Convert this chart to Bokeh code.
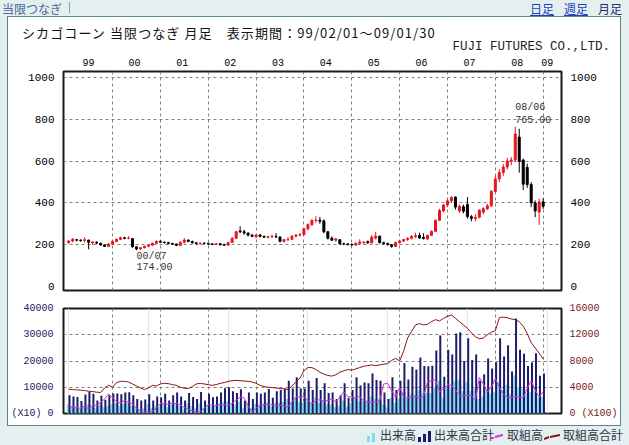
from bokeh.plotting import figure
from bokeh.models import (ColumnDataSource, Range1d, LinearAxis, FixedTicker, Label, Div,
                          Grid, CustomJSTickFormatter)
from bokeh.layouts import column
from bokeh.transform import dodge
from bokeh.embed import file_html
from bokeh.resources import INLINE

# ---------------- data (monthly, 1999/02 .. 2009/01) ----------------
first_year, first_month = 1999, 2
year_labels = ["99", "00", "01", "02", "03", "04", "05", "06", "07", "08", "09"]
title_text = "シカゴコーン 当限つなぎ 月足　表示期間：99/02/01～09/01/30"
company_text = "FUJI FUTURES CO.,LTD."

opens = [
    210, 218, 224, 222, 220, 222, 208, 212, 207, 199, 192,
    204, 216, 226, 233, 231, 229, 190, 180, 186, 193, 198, 207,
    216, 212, 210, 206, 203, 197, 212, 222, 216, 209, 206, 207,
    206, 204, 202, 205, 200, 198, 211, 231, 266, 262, 256, 246,
    238, 247, 240, 236, 239, 240, 237, 216, 224, 226, 241, 246,
    248, 276, 296, 316, 318, 314, 262, 231, 222, 224, 205, 204,
    201, 199, 206, 210, 215, 209, 232, 241, 210, 206, 200, 192,
    210, 218, 225, 231, 239, 245, 235, 228, 245, 264, 317, 362,
    390, 410, 428, 362, 382, 392, 334, 326, 332, 356, 372, 386,
    455, 515, 546, 572, 600, 606, 715, 605, 570, 488, 400, 356,
    405]
highs = [
    222, 232, 228, 226, 236, 224, 216, 216, 209, 201, 206,
    220, 229, 238, 238, 240, 231, 192, 188, 195, 201, 210, 221,
    222, 216, 214, 210, 206, 215, 232, 226, 219, 212, 211, 212,
    210, 208, 208, 207, 205, 213, 236, 266, 288, 272, 259, 252,
    250, 251, 244, 242, 248, 256, 240, 228, 236, 246, 251, 256,
    280, 302, 322, 336, 333, 322, 266, 240, 232, 226, 210, 208,
    207, 212, 226, 216, 220, 246, 262, 243, 215, 210, 202, 215,
    222, 228, 235, 246, 258, 258, 255, 248, 268, 320, 372, 395,
    420, 432, 432, 393, 392, 428, 342, 346, 370, 380, 396, 462,
    530, 562, 586, 616, 620, 765, 755, 612, 588, 500, 412, 420,
    422]
lows = [
    205, 212, 216, 214, 212, 178, 200, 203, 196, 189, 190,
    200, 212, 222, 226, 226, 186, 174, 175, 182, 188, 195, 203,
    208, 205, 201, 199, 193, 193, 206, 212, 206, 201, 200, 202,
    200, 198, 198, 196, 194, 196, 208, 228, 255, 248, 240, 236,
    232, 236, 232, 230, 232, 232, 212, 210, 218, 222, 235, 240,
    245, 270, 290, 305, 300, 255, 225, 218, 214, 200, 198, 197,
    194, 195, 200, 203, 205, 207, 225, 205, 200, 195, 186, 188,
    205, 212, 218, 225, 232, 228, 225, 222, 242, 262, 314, 355,
    380, 400, 368, 352, 350, 325, 312, 312, 326, 345, 366, 380,
    450, 500, 530, 560, 580, 596, 545, 462, 472, 380, 332, 295,
    372]
closes = [
    218, 226, 222, 220, 224, 212, 213, 208, 199, 192, 204,
    216, 226, 234, 231, 232, 190, 180, 186, 193, 198, 207, 216,
    212, 210, 206, 203, 197, 212, 222, 216, 209, 206, 207, 206,
    204, 202, 205, 200, 198, 211, 231, 262, 262, 256, 246, 240,
    247, 240, 236, 239, 241, 237, 216, 224, 226, 241, 246, 248,
    276, 296, 316, 318, 312, 262, 231, 222, 228, 205, 204, 201,
    199, 206, 213, 213, 209, 236, 241, 210, 206, 201, 192, 210,
    218, 225, 231, 239, 243, 232, 230, 245, 264, 317, 364, 390,
    410, 426, 380, 384, 360, 335, 326, 331, 365, 372, 386, 455,
    515, 546, 572, 601, 606, 730, 598, 490, 488, 400, 362, 405,
    384]

# 出来高 (x10)
volume = [
    3500, 2800, 2200, 1800, 3000, 3500, 2600, 2000, 3200, 2500, 3000,
    3500, 3800, 3000, 3600, 4000, 3000, 2200, 1500, 2000, 3500, 2200, 3000,
    2800, 3600, 2400, 3400, 3800, 2800, 1800, 3800, 2900, 2000, 3900, 2200,
    3500, 2800, 3000, 3800, 4500, 4800, 3800, 3500, 4500, 2200, 3600, 2200,
    3600, 3400, 3800, 4400, 2600, 3800, 4200, 4400, 5500, 4200, 6000, 4200,
    4200, 5500, 4000, 6000, 4000, 5000, 3400, 3400, 2400, 3000, 5000, 2600,
    4000, 6000, 4600, 5000, 5000, 6500, 5500, 5400, 3400, 2400, 6000, 4000,
    5500, 8000, 5600, 7500, 7000, 9000, 7600, 7800, 7800, 10000, 12500, 6000,
    10500, 9500, 12500, 13000, 8500, 12000, 8600, 9500, 5500, 6500, 9000, 7600,
    8200, 12000, 9000, 11000, 7600, 14500, 10000, 9500, 7600, 8200, 9600, 6000,
    6400]
# 出来高合計 (x10)
volume_total = [
    7000, 6500, 6300, 4800, 7200, 8300, 7500, 5000, 6800, 5200, 7000,
    7600, 7600, 7300, 8000, 8100, 7000, 5500, 5000, 5300, 7300, 5000, 6500,
    6200, 7500, 5000, 7000, 8000, 6500, 5000, 7800, 6300, 5500, 8200, 5000,
    7500, 6200, 6500, 8000, 9600, 10000, 8500, 7800, 9200, 5000, 8000, 5500,
    8000, 7500, 8000, 9300, 6000, 8500, 9000, 9500, 12500, 9500, 13800, 9500,
    9500, 12500, 9000, 13500, 9000, 11500, 7800, 8000, 5500, 7000, 11500, 6000,
    9000, 13800, 10700, 11800, 11500, 15200, 12800, 12500, 8000, 5500, 13800, 9000,
    12500, 19200, 13000, 17800, 16800, 21300, 18100, 18000, 18200, 24000, 29700, 14000,
    24300, 22500, 30500, 31000, 20000, 28700, 20400, 22500, 12500, 15000, 21000, 17100,
    19500, 28700, 21700, 26000, 16000, 36200, 24300, 22800, 18100, 19400, 23000, 14400,
    15200]
# 取組高 (x100)
open_int = [
    1200, 1000, 900, 800, 1100, 700, 1300, 1200, 1700, 2200, 3000,
    2400, 1800, 1600, 2000, 1700, 1500, 800, 400, 200, 250, 300, 900,
    1500, 1500, 1400, 1600, 1500, 1300, 900, 700, 400, 200, 250, 800,
    1300, 1300, 1200, 1400, 1300, 1200, 1600, 2000, 2500, 2400, 1200, 200,
    800, 1200, 1300, 1400, 1300, 1200, 1300, 1100, 1000, 1800, 2500, 2500,
    2600, 2000, 1500, 2000, 2100, 1900, 2000, 2200, 1800, 2500, 3300, 2600,
    2500, 2400, 2600, 1900, 1800, 1700, 1800, 1900, 4500, 4600, 3500, 2500,
    4000, 2600, 2400, 2500, 2600, 2400, 2600, 4800, 5000, 5100, 3300, 3800,
    4300, 4300, 3600, 2800, 2700, 2800, 2700, 2000, 5500, 4500, 3300, 4000,
    5300, 4000, 3000, 2500, 2400, 2600, 2500, 2400, 3800, 5000, 3600, 2500,
    3300]
# 取組高合計 (x100)
open_int_total = [
    3700, 3650, 3600, 3550, 3500, 3400, 3350, 3250, 3200, 3900, 4300,
    4000, 4700, 4900, 4900, 4800, 4500, 4200, 3900, 3650, 3900, 4300, 4200,
    4500, 4600, 4550, 4400, 4300, 4000, 3850, 3800, 4100, 4500, 4600, 4500,
    4400, 4300, 4400, 4600, 4700, 4900, 5000, 5050, 5000, 4950, 4900, 4800,
    4600, 4300, 4100, 4000, 3950, 3900, 3800, 3750, 3650, 4200, 4800, 5400,
    6500, 7000, 7000, 6700, 6300, 6000, 5800, 5700, 5900, 6300, 6500, 6700,
    6600, 6800, 7000, 7200, 7300, 7400, 7300, 7400, 7500, 7600, 8100, 8400,
    8000, 9500, 11500, 12500, 13500, 13700, 13500, 13600, 14000, 14300, 14100, 14500,
    14800, 15000, 14500, 14000, 13500, 13000, 12300, 11700, 11400, 11500, 12000, 12400,
    12600, 14600, 14700, 14600, 14400, 14300, 14000, 13300, 12200, 10800, 10000, 9200,
    8300]

price_ticks = [0, 200, 400, 600, 800, 1000]
vol_ticks = [0, 10000, 20000, 30000, 40000]
oi_ticks = [0, 4000, 8000, 12000, 16000]
legend_labels = ["出来高", "出来高合計", "取組高", "取組高合計"]

# ---------------- styles ----------------
BG = "#e4eff0"
RED = "#e8161e"
BLACK = "#000000"
GRID = "#808080"
CYAN = "#7edcec"
NAVY = "#1c1c6a"
MAGENTA = "#dd30dd"
DRED = "#8a1515"
MONO = "Liberation Mono"
JP = "Noto Sans CJK JP"

n = len(opens)
x = list(range(n))
month_num = [(first_month - 1 + i) % 12 + 1 for i in x]
year_num = [first_year + (first_month - 1 + i) // 12 for i in x]
jan_ticks = [i for i in x if month_num[i] == 1]

year_ticks = []
for yl in year_labels:
    idx = [i for i in x if year_num[i] % 100 == int(yl)]
    year_ticks.append((idx[0] + idx[-1]) / 2 if len(idx) > 1 else idx[0] + 1.0)

XS, XE = -1.3, 123.6
YS, YE = -19, 1029
UPP = (YE - YS) / 219.0


def style_axis(ax, size="11px", color="#000000", standoff=3):
    ax.axis_line_color = None
    ax.major_tick_line_color = None
    ax.minor_tick_line_color = None
    ax.major_label_text_font = MONO
    ax.major_label_text_font_size = size
    ax.major_label_text_color = color
    ax.major_label_standoff = standoff


# ---------------- price panel ----------------
p1 = figure(width=612, height=243, x_range=Range1d(XS, XE), y_range=Range1d(YS, YE),
            output_backend="svg", toolbar_location=None, title_location=None,
            x_axis_location="above", y_axis_location="left",
            min_border_left=53, min_border_right=53, min_border_top=16, min_border_bottom=8,
            background_fill_color="white", border_fill_color="white",
            outline_line_color="#1a1a1a", outline_line_width=2)

up = [c >= o for o, c in zip(opens, closes)]
src1 = ColumnDataSource(dict(
    x=x, high=highs, low=lows,
    top=[max(o, c) for o, c in zip(opens, closes)],
    bottom=[min(o, c) for o, c in zip(opens, closes)],
    color=[RED if u else BLACK for u in up]))
p1.segment(x0="x", y0="high", x1="x", y1="low", line_color="color", line_width=1, source=src1)
p1.vbar(x="x", width=0.5, top="top", bottom="bottom", fill_color="color",
        line_color="color", line_width=1, source=src1)

p1.xaxis[0].ticker = FixedTicker(ticks=year_ticks)
p1.xaxis[0].formatter = CustomJSTickFormatter(
    args=dict(tpos=year_ticks, labs=year_labels),
    code="const i = tpos.indexOf(tick); return i >= 0 ? labs[i] : '';")
style_axis(p1.xaxis[0], size="10px", standoff=0)
p1.yaxis[0].ticker = FixedTicker(ticks=price_ticks)
style_axis(p1.yaxis[0])
rax = LinearAxis(ticker=FixedTicker(ticks=price_ticks))
style_axis(rax)
p1.add_layout(rax, "right")

p1.xgrid[0].ticker = FixedTicker(ticks=jan_ticks)
p1.ygrid[0].ticker = FixedTicker(ticks=price_ticks[1:])
for g in (p1.xgrid[0], p1.ygrid[0]):
    g.grid_line_color = GRID
    g.grid_line_dash = "3 3"
    g.grid_line_width = 1

i_hi = max(x, key=lambda i: highs[i])
i_lo = min(x, key=lambda i: lows[i])


def ym(i):
    return f"{year_num[i] % 100:02d}/{month_num[i]:02d}"


for txt, yy, ii in [(ym(i_hi), highs[i_hi] + 19 * UPP, i_hi),
                    (f"{highs[i_hi]:.2f}", highs[i_hi] + 7 * UPP, i_hi),
                    (ym(i_lo), lows[i_lo] - 6.5 * UPP, i_lo),
                    (f"{lows[i_lo]:.2f}", lows[i_lo] - 16.5 * UPP, i_lo)]:
    p1.add_layout(Label(x=ii, y=yy, text=txt, text_font=MONO, text_font_size="10px",
                        text_color="#333333", text_align="left", text_baseline="middle"))

# ---------------- volume panel ----------------
p2 = figure(width=612, height=127, x_range=p1.x_range, y_range=Range1d(0, 40000),
            output_backend="svg", toolbar_location=None, title_location=None,
            x_axis_location=None, y_axis_location="left",
            min_border_left=53, min_border_right=53, min_border_top=10, min_border_bottom=12,
            background_fill_color="white", border_fill_color="white",
            outline_line_color="#1a1a1a", outline_line_width=2)
p2.extra_y_ranges = {"oi": Range1d(0, 16000)}

src2 = ColumnDataSource(dict(x=x, vol=volume, tot=volume_total, oi=open_int, toi=open_int_total))
p2.vbar(x="x", width=0.95, top="vol", bottom=0, fill_color=CYAN, line_color=None, source=src2)
p2.vbar(x=dodge("x", 0.2, range=p2.x_range), width=0.5, top="tot", bottom=0,
        fill_color=NAVY, line_color=None, source=src2)
p2.line(x="x", y="oi", y_range_name="oi", line_color=MAGENTA, line_width=1, source=src2)
p2.line(x="x", y="toi", y_range_name="oi", line_color=DRED, line_width=1, source=src2)

p2.yaxis[0].ticker = FixedTicker(ticks=vol_ticks)
p2.yaxis[0].major_label_overrides = {0: "(X10) 0"}
style_axis(p2.yaxis[0], size="10px", color="#23235a", standoff=4)
rax2 = LinearAxis(y_range_name="oi", ticker=FixedTicker(ticks=oi_ticks))
rax2.major_label_overrides = {0: "0 (X100)"}
style_axis(rax2, size="10px", color="#7a1c1c", standoff=2)
p2.add_layout(rax2, "right")

p2.ygrid[0].ticker = FixedTicker(ticks=vol_ticks[1:-1])
p2.ygrid[0].grid_line_color = GRID
p2.ygrid[0].grid_line_dash = "3 3"
p2.add_layout(Grid(dimension=0, ticker=FixedTicker(ticks=jan_ticks),
                   grid_line_color=GRID, grid_line_dash="3 3"))

# ---------------- title, header and legend ----------------
title_html = (
    "<div style=\"position:relative;width:612px;height:38px;overflow:hidden;background:white;\">"
    f"<span style=\"position:absolute;left:14px;top:7px;line-height:18px;white-space:pre;letter-spacing:1.1px;"
    f"font-family:'{JP}',sans-serif;font-size:13px;color:#111111;\">{title_text}</span>"
    f"<span style=\"position:absolute;right:10px;top:22px;line-height:16px;white-space:pre;"
    f"font-family:'{MONO}',monospace;font-size:12.5px;color:#222222;\">{company_text}</span>"
    "</div>")

header_html = (
    "<div style=\"position:relative;width:629px;height:17px;overflow:hidden;"
    f"font-family:'{JP}',sans-serif;font-size:12px;line-height:15px;\">"
    "<span style=\"position:absolute;left:2px;top:1px;color:#4a6a9a;\">当限つなぎ</span>"
    "<span style=\"position:absolute;left:69px;top:2px;width:1px;height:11px;background:#8aa0b0;\"></span>"
    "<span style=\"position:absolute;left:530px;top:1px;color:#1f3fbf;text-decoration:underline;\">日足</span>"
    "<span style=\"position:absolute;left:564px;top:1px;color:#1f3fbf;text-decoration:underline;\">週足</span>"
    "<span style=\"position:absolute;left:598px;top:1px;color:#22306a;\">月足</span>"
    "</div>")

icons = [
    f'<svg width="12" height="12"><rect x="1" y="6" width="3" height="6" fill="{CYAN}"/>'
    f'<rect x="6" y="3" width="3" height="9" fill="{CYAN}"/></svg>',
    f'<svg width="15" height="12"><rect x="1" y="7" width="3" height="5" fill="{NAVY}"/>'
    f'<rect x="6" y="4" width="3" height="8" fill="{NAVY}"/><rect x="11" y="1" width="3" height="11" fill="{NAVY}"/></svg>',
    f'<svg width="13" height="12"><line x1="0" y1="8" x2="4" y2="8" stroke="{MAGENTA}" stroke-width="2"/>'
    f'<line x1="5" y1="7" x2="13" y2="5" stroke="{MAGENTA}" stroke-width="2"/></svg>',
    f'<svg width="16" height="12"><line x1="0" y1="9" x2="5" y2="7" stroke="{DRED}" stroke-width="2"/>'
    f'<line x1="6" y1="7" x2="16" y2="5" stroke="{DRED}" stroke-width="2"/></svg>',
]
icon_left = [366, 417, 490, 544]
text_left = [380, 434, 507, 563]
parts = []
for ic, il, tl, lab in zip(icons, icon_left, text_left, legend_labels):
    parts.append(f'<div style="position:absolute;left:{il}px;top:4px;width:16px;height:12px;">{ic}</div>')
    parts.append(f'<span style="position:absolute;left:{tl}px;top:2px;">{lab}</span>')
legend_html = (
    "<div style=\"position:relative;width:629px;height:20px;overflow:hidden;"
    f"font-family:'{JP}',sans-serif;font-size:12px;line-height:15px;color:#333344;\">"
    + "".join(parts) + "</div>")

header = Div(text=header_html, width=629, height=17, margin=0)
title_div = Div(text=title_html, width=612, height=38, margin=0)
legend = Div(text=legend_html, width=629, height=20, margin=0)

panel = column(title_div, p1, p2, width=612, height=408, margin=(0, 9, 0, 8),
               styles={"box-shadow": "0 0 0 1px #5b8686", "background-color": "white"})
root = column(header, panel, legend, width=629, height=445, margin=0,
              styles={"background-color": BG})

open("out.html", "w").write(file_html(root, INLINE))
